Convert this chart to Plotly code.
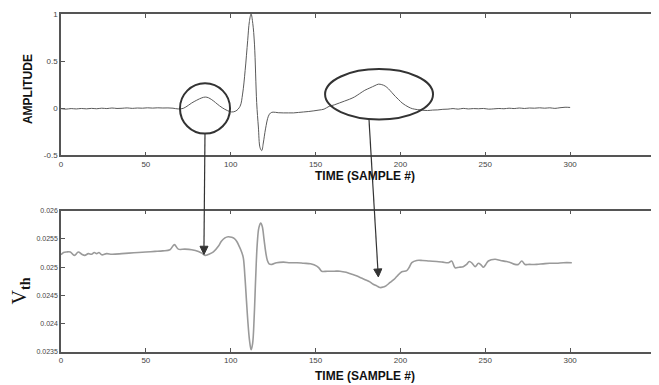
import plotly.graph_objects as go
from plotly.subplots import make_subplots

# ---------------- data ----------------
amp_x = [0, 3, 6, 9, 12, 15, 18, 21, 24, 27, 30, 33, 36, 39, 42, 45, 48, 51, 54, 57, 60, 63, 66,
         69, 72, 75, 77, 80, 83, 85, 87, 90, 92, 95, 98, 100.5, 103, 105.5, 107, 108.5, 110, 111, 112,
         113, 114, 115.3, 116.3, 117.3, 118.3, 119.2, 120.5, 122.2, 123.5, 125, 128, 131, 134, 137,
         140, 143, 146, 149, 152, 155, 158, 161, 164, 167, 170, 173, 176, 179, 182, 185, 187, 189,
         191, 193, 195, 197, 199, 201, 203, 205, 207, 210, 213, 216, 219, 222, 225, 228, 231, 234,
         237, 240, 243, 246, 249, 252, 255, 258, 261, 264, 267, 270, 273, 276, 279, 282, 285, 288,
         291, 294, 297, 300]
amplitude = [-0.005, -0.01, -0.004, -0.008, -0.003, -0.007, -0.002, -0.006, 0.0, -0.004, 0.002,
             -0.003, -0.001, 0.003, -0.002, 0.002, 0.0, 0.004, 0.001, 0.004, 0.002, 0.003, 0.0,
             -0.008, -0.002, 0.03, 0.055, 0.085, 0.11, 0.118, 0.11, 0.075, 0.045, 0.005, -0.025,
             -0.04, -0.03, 0.02, 0.15, 0.4, 0.72, 0.92, 1.0, 0.9, 0.68, 0.06, -0.2, -0.42, -0.45,
             -0.37, -0.22, -0.085, -0.05, -0.042, -0.048, -0.05, -0.05, -0.05, -0.045, -0.04,
             -0.035, -0.028, -0.02, -0.01, 0.02, 0.035, 0.055, 0.075, 0.095, 0.12, 0.155, 0.19,
             0.215, 0.24, 0.255, 0.25, 0.235, 0.205, 0.165, 0.125, 0.09, 0.055, 0.03, 0.01, -0.005,
             -0.015, -0.022, -0.025, -0.02, -0.018, -0.012, -0.01, -0.004, -0.01, -0.002, -0.008,
             -0.004, -0.006, -0.003, -0.01, -0.007, -0.003, -0.006, 0.0, -0.004, 0.002, -0.003,
             0.002, 0.0, 0.004, 0.0, 0.004, -0.002, 0.005, 0.01, 0.008]

vth_x = [0, 1.5, 3.3, 5.5, 7.9, 10.2, 12.2, 14, 16.1, 18, 19.6, 21, 22.4, 24, 26.9, 30, 35.8, 40,
         45.6, 50, 55.4, 60, 64.2, 66.8, 69.1, 73, 77, 81, 83, 84.9, 87, 89.8, 92.7, 94.5, 96.6,
         98.5, 100.6, 102, 103.5, 105, 106.3, 107.4, 108.4, 109.3, 110.2, 111.1, 112, 112.9,
         113.8, 114.7, 115.6, 116.6, 117.7, 118.6, 119.6, 120.6, 121.6, 122.6, 124.2, 127, 131,
         135, 139, 143, 147, 150.7, 152.2, 153.6, 157, 161, 164.4, 168, 171, 174, 177, 180, 182,
         184, 186, 188, 190, 191.5, 193.9, 196, 198, 200.8, 203.7, 205.2, 206.7, 209.6, 213, 217,
         221.4, 225, 228.2, 230.2, 232.2, 234.5, 237, 239, 240.6, 242.3, 244, 246, 247.5, 248.9,
         250.3, 251.8, 255.7, 259, 262.6, 265, 267.5, 269.5, 271.5, 273.4, 276, 280.3, 284, 288,
         292, 296, 301]
vth = [0.02522, 0.02526, 0.02527, 0.02527, 0.02521, 0.02527, 0.02523, 0.02521, 0.02524, 0.02523,
       0.02526, 0.02524, 0.02526, 0.02522, 0.02524, 0.02523, 0.02524, 0.02525, 0.02526, 0.02527,
       0.02528, 0.02529, 0.02531, 0.0254, 0.02532, 0.02532, 0.02531, 0.02528, 0.02525, 0.02521,
       0.02523, 0.02527, 0.02537, 0.02546, 0.02552, 0.02554, 0.02553, 0.02551, 0.02546, 0.02537,
       0.02528, 0.02517, 0.02482, 0.02440, 0.02400, 0.02370, 0.02354, 0.02365, 0.02410, 0.02480,
       0.02540, 0.02570, 0.02578, 0.02572, 0.02550, 0.02527, 0.02512, 0.02506, 0.02505, 0.02508,
       0.02509, 0.02508, 0.02508, 0.02507, 0.02506, 0.02502, 0.02498, 0.02493, 0.02493, 0.02493,
       0.02493, 0.02491, 0.02488, 0.02485, 0.02481, 0.02477, 0.02474, 0.0247, 0.02467, 0.02464,
       0.02465, 0.02467, 0.02473, 0.02478, 0.02484, 0.02492, 0.02494, 0.02500, 0.02508, 0.02512,
       0.02512, 0.02511, 0.0251, 0.02509, 0.02508, 0.02511, 0.02499, 0.02500, 0.02501, 0.02505,
       0.0251, 0.02507, 0.02501, 0.02507, 0.02504, 0.025, 0.02505, 0.02511, 0.02514, 0.02512,
       0.0251, 0.02508, 0.02505, 0.02505, 0.02511, 0.02505, 0.02505, 0.02505, 0.02506, 0.02507,
       0.02507, 0.02508, 0.02508]

x_ticks = [0, 50, 100, 150, 200, 250, 300, 350]
amp_ticks = [-0.5, 0, 0.5, 1]
amp_tick_labels = ["-0.5", "0", "0.5", "1"]
vth_ticks = [0.0235, 0.024, 0.0245, 0.025, 0.0255, 0.026]
vth_tick_labels = ["0.0235", "0.024", "0.0245", "0.025", "0.0255", "0.026"]

x_title = "TIME (SAMPLE #)"
amp_title = "AMPLITUDE"
vth_title = "V<sub><b>th</b></sub>"

# ---------------- figure ----------------
fig = make_subplots(rows=2, cols=1, vertical_spacing=0.164)

fig.add_trace(go.Scatter(x=amp_x, y=amplitude, mode="lines",
                         line=dict(color="#5a5a5a", width=1), showlegend=False,
                         line_shape="spline"), row=1, col=1)
fig.add_trace(go.Scatter(x=vth_x, y=vth, mode="lines",
                         line=dict(color="#9a9a9a", width=1.6), showlegend=False,
                         line_shape="spline"), row=2, col=1)

axis_common = dict(showline=True, linecolor="#555555", linewidth=1.5, mirror="allticks",
                   ticks="inside", ticklen=4, tickcolor="#555555", showgrid=False,
                   zeroline=False, tickfont=dict(family="Liberation Sans, Arial", size=8,
                                                 color="#444444"))

fig.update_xaxes(range=[0, 350], tickvals=x_ticks, **axis_common)
fig.update_yaxes(**axis_common)
fig.update_yaxes(range=[-0.5, 1], tickvals=amp_ticks, ticktext=amp_tick_labels, row=1, col=1)
fig.update_yaxes(range=[0.0235, 0.026], tickvals=vth_ticks, ticktext=vth_tick_labels,
                 tickfont=dict(size=7), row=2, col=1)

# highlight ellipses on the top panel
fig.add_shape(type="circle", xref="x", yref="y", x0=70.1, x1=99.6, y0=-0.27, y1=0.265,
              line=dict(color="#333333", width=2))
fig.add_shape(type="circle", xref="x", yref="y", x0=155.6, x1=219.2, y0=-0.12, y1=0.415,
              line=dict(color="#333333", width=2))

# arrows (shaft + filled head) from the ellipses down to the bottom panel, in paper units
arrow_color = "#333333"
fig.add_shape(type="line", xref="paper", yref="paper", x0=0.2424, y0=0.6462,
              x1=0.2407, y1=0.3129, line=dict(color=arrow_color, width=1.2))
fig.add_shape(type="path", xref="paper", yref="paper",
              path="M 0.2407,0.2886 L 0.2340,0.3129 L 0.2475,0.3129 Z",
              fillcolor=arrow_color, line=dict(color=arrow_color, width=1))
fig.add_shape(type="line", xref="paper", yref="paper", x0=0.5185, y0=0.6880,
              x1=0.5334, y1=0.2456, line=dict(color=arrow_color, width=1.2))
fig.add_shape(type="path", xref="paper", yref="paper",
              path="M 0.5342,0.2222 L 0.5401,0.2462 L 0.5266,0.2450 Z",
              fillcolor=arrow_color, line=dict(color=arrow_color, width=1))

title_font = dict(family="Liberation Sans, Arial", size=12, color="#111111")
center = dict(xanchor="center", yanchor="middle", showarrow=False,
              xref="paper", yref="paper")
fig.add_annotation(text="<b>" + x_title + "</b>", x=0.511, y=0.5205, font=title_font, **center)
fig.add_annotation(text="<b>" + x_title + "</b>", x=0.511, y=-0.0702, font=title_font, **center)
fig.add_annotation(text="<b>" + amp_title + "</b>", x=-0.0555, y=0.778, textangle=-90,
                   font=title_font, **center)
fig.add_annotation(text=vth_title, x=-0.068, y=0.181, textangle=-90,
                   font=dict(family="Liberation Serif, Times New Roman", size=20,
                             color="#111111"), **center)

# the page body adds an 8px offset, so the figure is shrunk to keep the plot areas in place
fig.update_layout(width=651, height=377, margin=dict(l=53, r=4, t=2, b=33),
                  paper_bgcolor="white", plot_bgcolor="white")

fig.write_html("out.html")
